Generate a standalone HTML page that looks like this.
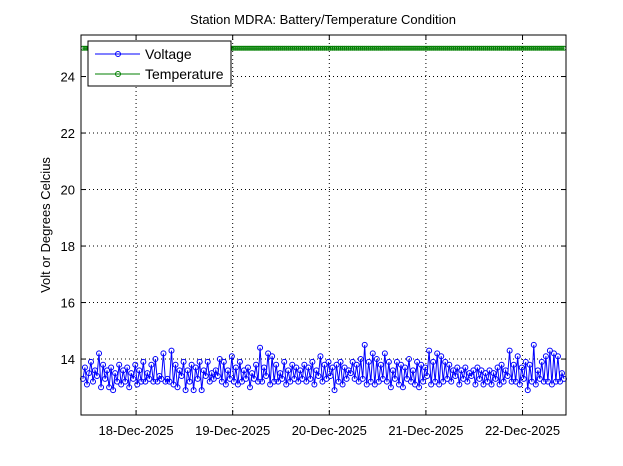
<!DOCTYPE html>
<html><head><meta charset="utf-8"><style>
body{margin:0;background:#fff;}
svg{display:block;font-family:"Liberation Sans",sans-serif;}
</style></head><body>
<svg id="chart" width="623" height="466" viewBox="0 0 623 466" xmlns="http://www.w3.org/2000/svg">
<rect x="0" y="0" width="623" height="466" fill="#fff"/>
<text x="323" y="24" font-size="13" text-anchor="middle">Station MDRA: Battery/Temperature Condition</text>
<text transform="translate(50,225) rotate(-90)" font-size="13" text-anchor="middle">Volt or Degrees Celcius</text>
<g id="grid"></g>
<g id="series"></g>
<rect x="81" y="35" width="485" height="380" fill="none" stroke="#000" stroke-width="1"/>
<g id="ticks"></g>
<g>
<rect x="88" y="41" width="143" height="45" fill="#fff" stroke="#000"/>
<g>
<line x1="95" y1="54" x2="140" y2="54" stroke="#0000ff"/>
<circle cx="118" cy="54" r="2.5" fill="none" stroke="#0000ff"/>
<text x="145" y="59" font-size="14">Voltage</text>
</g>
<g>
<line x1="95" y1="74" x2="140" y2="74" stroke="#007f00"/>
<circle cx="118" cy="74" r="2.5" fill="none" stroke="#007f00"/>
<text x="145" y="79" font-size="14">Temperature</text>
</g>
</g>
</svg>
<script>
const yTicks=[14,16,18,20,22,24];
const xTickDays=[18,19,20,21,22];
const xTickLabels=["18-Dec-2025","19-Dec-2025","20-Dec-2025","21-Dec-2025","22-Dec-2025"];
const startDay=17.45;
const stepDays=1/48;
const voltage=[13.3,13.7,13.1,13.5,13.9,13.2,13.6,13.4,14.2,13.0,13.8,13.3,13.6,13.0,13.7,12.9,13.5,13.2,13.8,13.1,13.6,13.2,13.7,13.0,13.5,13.3,13.8,13.1,13.6,13.2,13.9,13.2,13.5,13.3,13.8,13.2,14.0,13.2,13.4,13.3,14.2,13.2,13.3,13.2,14.3,13.1,13.8,13.0,13.6,13.4,13.9,12.9,13.6,13.2,13.8,12.9,13.7,13.3,13.9,12.9,13.6,13.4,13.9,13.2,13.5,13.3,13.6,13.4,14.0,13.2,13.9,13.1,13.6,13.3,14.1,13.2,13.7,13.1,13.9,13.2,13.6,13.3,13.7,13.0,13.5,13.3,13.8,13.2,14.4,13.2,13.7,13.4,14.2,13.1,14.1,13.2,13.8,13.2,13.5,13.3,13.9,13.1,13.6,13.2,13.8,13.3,13.7,13.2,13.6,13.3,13.8,13.2,13.7,13.3,13.9,13.1,13.6,13.4,14.1,13.2,13.8,13.3,13.9,13.4,13.7,12.9,13.8,13.2,13.9,13.1,13.7,13.3,13.6,13.5,13.9,13.3,13.8,13.2,14.0,13.3,14.5,13.1,13.9,13.2,14.2,13.1,14.0,13.2,13.8,13.3,14.2,13.2,13.9,13.0,13.6,13.3,13.9,13.1,13.8,13.0,13.7,13.3,14.0,13.2,13.6,13.1,13.9,13.0,13.8,13.2,13.7,13.4,14.3,13.1,13.9,13.2,14.2,13.1,14.1,13.2,13.9,13.3,13.8,13.2,13.6,13.4,13.7,13.1,13.6,13.3,13.7,13.2,13.5,13.4,13.6,13.1,13.7,13.3,13.6,13.1,13.5,13.2,13.6,13.1,13.5,13.3,13.7,13.1,13.8,13.2,13.6,13.4,14.3,13.2,13.8,13.2,14.1,13.1,13.7,13.3,13.9,12.9,13.8,13.2,14.5,13.1,13.6,13.3,13.9,13.2,14.1,13.2,14.3,13.1,14.2,13.2,14.1,13.2,13.5,13.3];
const temperature=[25,25,25,25,25,25,25,25,25,25,25,25,25,25,25,25,25,25,25,25,25,25,25,25,25,25,25,25,25,25,25,25,25,25,25,25,25,25,25,25,25,25,25,25,25,25,25,25,25,25,25,25,25,25,25,25,25,25,25,25,25,25,25,25,25,25,25,25,25,25,25,25,25,25,25,25,25,25,25,25,25,25,25,25,25,25,25,25,25,25,25,25,25,25,25,25,25,25,25,25,25,25,25,25,25,25,25,25,25,25,25,25,25,25,25,25,25,25,25,25,25,25,25,25,25,25,25,25,25,25,25,25,25,25,25,25,25,25,25,25,25,25,25,25,25,25,25,25,25,25,25,25,25,25,25,25,25,25,25,25,25,25,25,25,25,25,25,25,25,25,25,25,25,25,25,25,25,25,25,25,25,25,25,25,25,25,25,25,25,25,25,25,25,25,25,25,25,25,25,25,25,25,25,25,25,25,25,25,25,25,25,25,25,25,25,25,25,25,25,25,25,25,25,25,25,25,25,25,25,25,25,25,25,25,25,25,25,25,25,25];

const NS="http://www.w3.org/2000/svg";
const X0=81,X1=566,Y0=35,Y1=415;
const dMin=17.43,dMax=22.45,vMin=12.02,vMax=25.47;
function sx(d){return X0+(d-dMin)/(dMax-dMin)*(X1-X0);}
function sy(v){return Y1-(v-vMin)/(vMax-vMin)*(Y1-Y0);}
function mk(tag,attrs,parent){const e=document.createElementNS(NS,tag);for(const k in attrs)e.setAttribute(k,attrs[k]);parent.appendChild(e);return e;}
const grid=document.getElementById('grid'),ticks=document.getElementById('ticks'),series=document.getElementById('series');
yTicks.forEach(v=>{
  const y=sy(v);
  const g=mk('line',{x1:X0,x2:X1,y1:y,y2:y,stroke:'#000','stroke-dasharray':'1,3'},grid);
  
  
  mk('line',{x1:X0,x2:X0+5,y1:y,y2:y,stroke:'#000'},ticks);
  mk('line',{x1:X1,x2:X1-5,y1:y,y2:y,stroke:'#000'},ticks);
  const t=mk('text',{x:X0-6,y:y+5,'font-size':13,'text-anchor':'end'},ticks);
  
  
  t.textContent=v;
});
xTickDays.forEach((d,i)=>{
  const x=sx(d);
  const g=mk('line',{x1:x,x2:x,y1:Y0,y2:Y1,stroke:'#000','stroke-dasharray':'1,3'},grid);
  
  
  mk('line',{x1:x,x2:x,y1:Y1,y2:Y1-5,stroke:'#000'},ticks);
  mk('line',{x1:x,x2:x,y1:Y0,y2:Y0+5,stroke:'#000'},ticks);
  const t=mk('text',{x:x,y:Y1+20,'font-size':13,'text-anchor':'middle'},ticks);
  
  
  t.textContent=xTickLabels[i];
});
function drawSeries(vals,color,name,r){
  const g=mk('g',{},series);
  
  
  const pts=vals.map((v,i)=>sx(startDay+i*stepDays).toFixed(1)+','+sy(v).toFixed(1));
  mk('polyline',{points:pts.join(' '),fill:'none',stroke:color,'stroke-width':1},g);
  vals.forEach((v,i)=>{
    const c=mk('circle',{cx:sx(startDay+i*stepDays),cy:sy(v),r:r,fill:'none',stroke:color,'stroke-width':1},g);
    
    
  });
}
drawSeries(voltage,'#0000ff','voltage-series',2.5);
drawSeries(temperature,'#007f00','temperature-series',2);
</script>
</body></html>
